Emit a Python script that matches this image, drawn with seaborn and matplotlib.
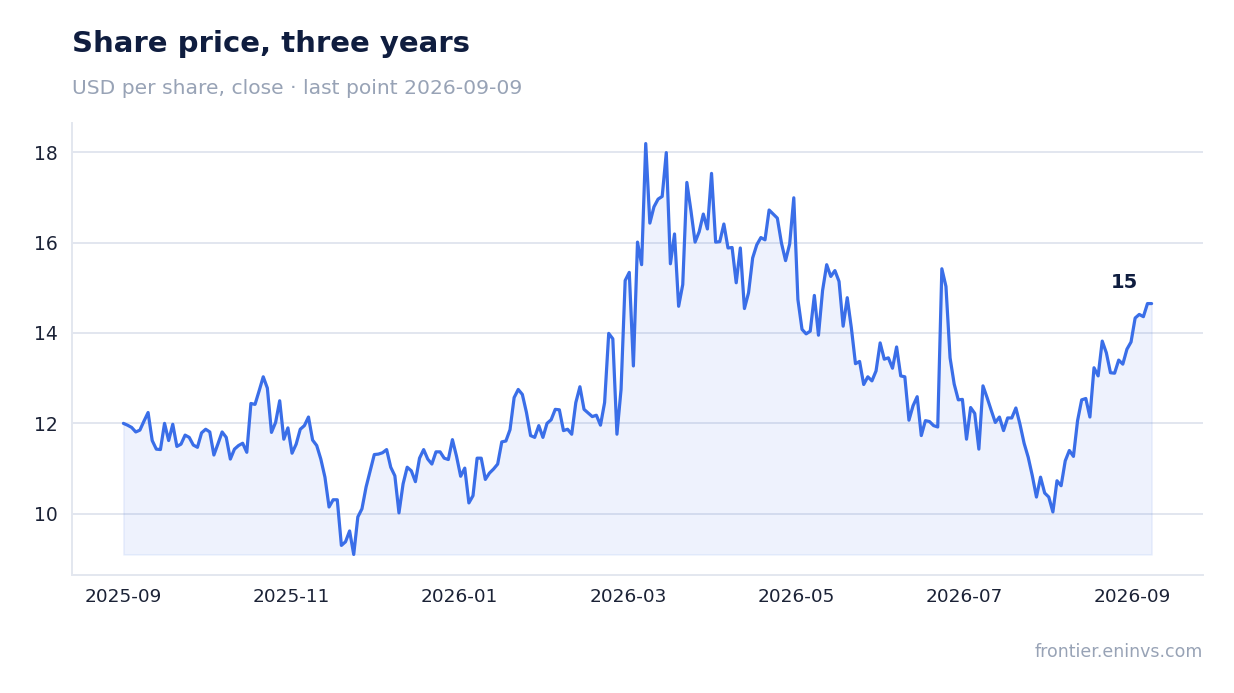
import numpy as np
import pandas as pd
import matplotlib
matplotlib.use("Agg")
import matplotlib.pyplot as plt
import seaborn as sns

# ---- data ----
start_date = "2025-09-01"
end_date = "2026-09-09"
prices = [
    12.00, 11.96, 11.91, 11.81, 11.85, 12.05, 12.24, 11.62, 11.43, 11.42,
    12.00, 11.62, 11.98, 11.49, 11.54, 11.74, 11.69, 11.52, 11.47, 11.79,
    11.87, 11.81, 11.30, 11.55, 11.81, 11.69, 11.21, 11.43, 11.51, 11.56,
    11.36, 12.44, 12.42, 12.72, 13.03, 12.78, 11.80, 12.02, 12.50, 11.65,
    11.90, 11.34, 11.54, 11.87, 11.95, 12.14, 11.63, 11.51, 11.21, 10.81,
    10.15, 10.31, 10.31, 9.30, 9.38, 9.62, 9.10, 9.93, 10.11, 10.59,
    10.95, 11.31, 11.32, 11.35, 11.42, 11.03, 10.84, 10.02, 10.66, 11.03,
    10.95, 10.71, 11.23, 11.42, 11.21, 11.10, 11.37, 11.37, 11.23, 11.20,
    11.64, 11.27, 10.83, 11.01, 10.24, 10.40, 11.23, 11.23, 10.76, 10.90,
    10.99, 11.10, 11.59, 11.61, 11.86, 12.57, 12.75, 12.64, 12.24, 11.73,
    11.69, 11.95, 11.69, 12.00, 12.08, 12.31, 12.30, 11.84, 11.87, 11.76,
    12.46, 12.81, 12.31, 12.23, 12.15, 12.18, 11.96, 12.46, 13.99, 13.87,
    11.76, 12.75, 15.16, 15.34, 13.27, 16.01, 15.51, 18.19, 16.43, 16.79,
    16.96, 17.02, 17.99, 15.53, 16.19, 14.59, 15.07, 17.33, 16.70, 16.01,
    16.24, 16.63, 16.30, 17.53, 16.01, 16.02, 16.41, 15.88, 15.89, 15.11,
    15.88, 14.54, 14.89, 15.66, 15.95, 16.11, 16.06, 16.72, 16.63, 16.54,
    15.99, 15.60, 15.97, 16.99, 14.74, 14.08, 13.98, 14.04, 14.83, 13.95,
    14.94, 15.51, 15.25, 15.38, 15.14, 14.15, 14.78, 14.11, 13.32, 13.37,
    12.86, 13.03, 12.94, 13.16, 13.78, 13.42, 13.45, 13.22, 13.69, 13.05,
    13.03, 12.07, 12.39, 12.59, 11.73, 12.06, 12.04, 11.95, 11.92, 15.42,
    15.03, 13.45, 12.87, 12.52, 12.53, 11.65, 12.35, 12.22, 11.43, 12.83,
    12.57, 12.29, 12.02, 12.14, 11.84, 12.12, 12.12, 12.34, 11.98, 11.56,
    11.25, 10.84, 10.37, 10.81, 10.46, 10.37, 10.04, 10.73, 10.62, 11.17,
    11.40, 11.27, 12.06, 12.52, 12.55, 12.14, 13.23, 13.05, 13.82, 13.56,
    13.12, 13.11, 13.40, 13.31, 13.64, 13.80, 14.33, 14.41, 14.36, 14.65,
    14.65,
]
y_ticks = [10, 12, 14, 16, 18]
x_tick_labels = ["2025-09", "2025-11", "2026-01", "2026-03", "2026-05", "2026-07", "2026-09"]
x_tick_step_days = 61

title = "Share price, three years"
subtitle = "USD per share, close \u00b7 last point 2026-09-09"
footer = "frontier.eninvs.com"

# ---- styling ----
LINE = "#3a6ee8"
NAVY = "#0f1d3f"
GREY_TXT = "#98a3b6"
GRID = "#e2e6ef"

dates = pd.date_range(start_date, end_date, periods=len(prices))
df = pd.DataFrame({"date": dates, "price": prices})

sns.set_theme(style="white")
plt.rcParams["font.family"] = ["DejaVu Sans"]

fig = plt.figure(figsize=(12.34, 6.93), dpi=100)
ax = fig.add_axes([72 / 1234, 1 - 575 / 693, (1203 - 72) / 1234, (575 - 123) / 693])

base = min(prices)
ax.fill_between(df["date"], df["price"], base, color="#3a6ee8", alpha=0.085, linewidth=1.2,
                edgecolor=(0.23, 0.43, 0.91, 0.06), zorder=1)
sns.lineplot(data=df, x="date", y="price", ax=ax, color=LINE, linewidth=2.3, zorder=3)

ax.set_xlabel("")
ax.set_ylabel("")
ax.set_yticks(y_ticks)
ax.set_yticklabels([str(v) for v in y_ticks])
ax.yaxis.grid(True, color=GRID, linewidth=1.4, zorder=0)
ax.xaxis.grid(False)
ax.set_axisbelow(True)

xt = pd.date_range(start_date, periods=len(x_tick_labels), freq=f"{x_tick_step_days}D")
ax.set_xticks(xt)
ax.set_xticklabels(x_tick_labels)

ax.margins(x=0.05, y=0.05)

for s in ["top", "right"]:
    ax.spines[s].set_visible(False)
for s in ["left", "bottom"]:
    ax.spines[s].set_color("#e3e7ef")
    ax.spines[s].set_linewidth(1.4)

ax.tick_params(axis="both", which="major", length=4.5, width=1.0, color="#3a4254",
               labelcolor="#1b2236", pad=5)
ax.tick_params(axis="y", labelsize=13.5, pad=6)
ax.tick_params(axis="x", labelsize=13.3)

last_val = prices[-1]
ax.annotate(f"{last_val:.0f}", xy=(dates[-1], last_val), xytext=(-19.5, 15.5),
            textcoords="offset points", ha="center", va="center",
            fontsize=14, fontweight="bold", color=NAVY)

fig.text(72 / 1234, 1 - 44 / 693, title, fontsize=21, fontweight="bold", color=NAVY,
         ha="left", va="center")
fig.text(72 / 1234, 1 - 88 / 693, subtitle, fontsize=14.6, color=GREY_TXT,
         ha="left", va="center")
fig.text(1203 / 1234, 1 - 652 / 693, footer, fontsize=12.5, color=GREY_TXT,
         ha="right", va="center")

fig.savefig("out.png", dpi=100)
